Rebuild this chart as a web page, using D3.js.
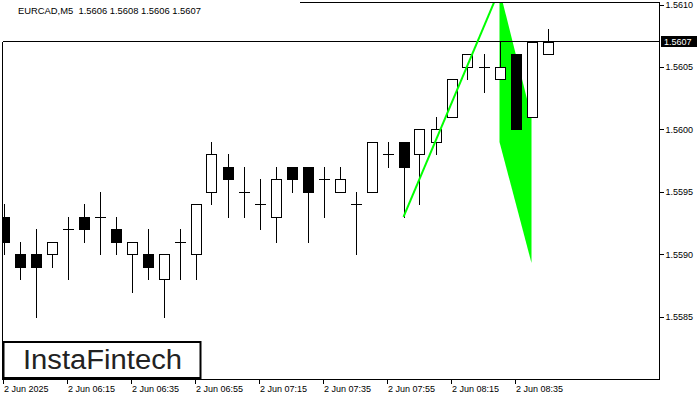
<!DOCTYPE html>
<html><head><meta charset="utf-8">
<script src="https://cdn.jsdelivr.net/npm/d3@7"></script>
<style>
html,body{margin:0;padding:0;background:#fff;}
svg{display:block;}
text{font-family:"Liberation Sans",Arial,sans-serif;}
</style></head>
<body>
<svg id="c" width="700" height="400"></svg>
<script>
// ---- data ----
const times = ["05:55","06:00","06:05","06:10","06:15","06:20","06:25","06:30","06:35","06:40","06:45","06:50","06:55","07:00","07:05","07:10","07:15","07:20","07:25","07:30","07:35","07:40","07:45","07:50","07:55","08:00","08:05","08:10","08:15","08:20","08:25","08:30","08:35","08:40","08:45"];
const open  = [1.5593,1.5590,1.5590,1.5590,1.5592,1.5593,1.5593,1.5592,1.5590,1.5590,1.5588,1.5591,1.5590,1.5595,1.5597,1.5595,1.5594,1.5593,1.5597,1.5597,1.5596,1.5595,1.5594,1.5595,1.5598,1.5599,1.5598,1.5599,1.5601,1.5605,1.5605,1.5604,1.5606,1.5601,1.5606];
const high  = [1.5594,1.5591,1.5592,1.5591,1.5593,1.5594,1.5595,1.5593,1.5591,1.5592,1.5590,1.5592,1.5594,1.5599,1.5598,1.5597,1.5596,1.5597,1.5597,1.5597,1.5597,1.5597,1.5595,1.5599,1.5599,1.5599,1.5600,1.5601,1.5604,1.5606,1.5606,1.5607,1.5606,1.5607,1.5608];
const low   = [1.5590,1.5588,1.5585,1.5589,1.5588,1.5591,1.5590,1.5590,1.5587,1.5588,1.5585,1.5588,1.5588,1.5594,1.5593,1.5593,1.5592,1.5591,1.5595,1.5591,1.5593,1.5595,1.5590,1.5595,1.5597,1.5593,1.5594,1.5598,1.5601,1.5604,1.5603,1.5604,1.5600,1.5601,1.5606];
const close = [1.5591,1.5589,1.5589,1.5591,1.5592,1.5592,1.5593,1.5591,1.5591,1.5589,1.5590,1.5591,1.5594,1.5598,1.5596,1.5595,1.5594,1.5596,1.5596,1.5595,1.5596,1.5596,1.5594,1.5599,1.5598,1.5597,1.5600,1.5600,1.5604,1.5606,1.5605,1.5605,1.5600,1.5607,1.5607];
const priceTicks = [1.5610,1.5605,1.5600,1.5595,1.5590,1.5585];
const timeTickIdx = [0,4,8,12,16,20,24,28,32];
const timeTickLabels = ["2 Jun 2025","2 Jun 06:15","2 Jun 06:35","2 Jun 06:55","2 Jun 07:15","2 Jun 07:35","2 Jun 07:55","2 Jun 08:15","2 Jun 08:35"];
const currentPrice = 1.5607;
const headerText = "EURCAD,M5  1.5606 1.5608 1.5606 1.5607";
// flag pattern: pole (index, price) and flag polygon
const poleIdx = [25, 31];
const polePrice = [1.5593, 1.56112];
const flagIdx = [31, 33, 33, 31];
const flagPrice = [1.56112, 1.5601, 1.55893, 1.5599];

// ---- layout ----
const svg = d3.select("#c");
const L = 3, R = 660, T = 2, B = 380;
const x = d3.scaleLinear().domain([0, 34]).range([3.5, 547.5]);
const y = d3.scaleLinear().domain([1.5585, 1.5610]).range([316.8, 4.5]);
const bw = 10;

svg.append("defs").append("clipPath").attr("id","plot")
  .append("rect").attr("x",L).attr("y",T).attr("width",R-L).attr("height",B-T);

const g = svg.append("g").attr("clip-path","url(#plot)");

// flag polygon (behind candles)
g.append("path")
  .attr("d", d3.line().x((d,i)=>x(flagIdx[i])).y((d,i)=>y(flagPrice[i])).curve(d3.curveLinearClosed)(flagIdx))
  .attr("fill","#00ff00").attr("stroke","none");

// current price line
g.append("line").attr("x1",0).attr("x2",R).attr("y1",Math.round(y(currentPrice))-0.5).attr("y2",Math.round(y(currentPrice))-0.5)
  .attr("stroke","#000").attr("stroke-width",1).attr("shape-rendering","crispEdges");

const candles = d3.range(times.length).map(i=>({i,o:open[i],h:high[i],l:low[i],c:close[i]}));
const cg = g.append("g").attr("shape-rendering","crispEdges");
const px = v => Math.round(v)+0.5;
cg.selectAll("line.wick").data(candles).join("line")
  .attr("x1",d=>px(x(d.i))).attr("x2",d=>px(x(d.i)))
  .attr("y1",d=>Math.round(y(d.h))).attr("y2",d=>Math.round(y(d.l))+1)
  .attr("stroke","#000");
cg.selectAll("rect.body").data(candles.filter(d=>d.o!==d.c)).join("rect")
  .attr("x",d=>Math.round(x(d.i))-bw/2+0.5)
  .attr("y",d=>Math.round(y(Math.max(d.o,d.c)))+0.5)
  .attr("width",bw)
  .attr("height",d=>Math.round(y(Math.min(d.o,d.c)))-Math.round(y(Math.max(d.o,d.c))))
  .attr("fill",d=>d.c<d.o?"#000":"#fff").attr("stroke","#000");
cg.selectAll("line.doji").data(candles.filter(d=>d.o===d.c)).join("line")
  .attr("x1",d=>Math.round(x(d.i))-bw/2).attr("x2",d=>Math.round(x(d.i))+bw/2+1)
  .attr("y1",d=>Math.round(y(d.o))+0.5).attr("y2",d=>Math.round(y(d.o))+0.5)
  .attr("stroke","#000");

// pole line (on top)
g.append("line")
  .attr("x1",x(poleIdx[0])).attr("y1",y(polePrice[0]))
  .attr("x2",x(poleIdx[1])).attr("y2",y(polePrice[1]))
  .attr("stroke","#00ff00").attr("stroke-width",2);

// frame
const fr = svg.append("g").attr("shape-rendering","crispEdges").attr("stroke","#000").attr("fill","none");
fr.append("line").attr("x1",R-0.5).attr("x2",R-0.5).attr("y1",T).attr("y2",B);
fr.append("line").attr("x1",L-0.5).attr("x2",R).attr("y1",B-0.5).attr("y2",B-0.5);
fr.append("line").attr("x1",L-0.5).attr("x2",L-0.5).attr("y1",Math.round(y(currentPrice))).attr("y2",B);
fr.append("line").attr("x1",300).attr("x2",R).attr("y1",T+0.5).attr("y2",T+0.5);

// right axis
const yAxis = d3.axisRight(y).tickValues(priceTicks).tickSize(4).tickPadding(2).tickFormat(d3.format(".4f"));
const ya = svg.append("g").attr("transform",`translate(${R-0.5},0)`).call(yAxis);
ya.select(".domain").remove();
ya.selectAll("text").attr("font-size","9px").attr("font-family","Liberation Sans, Arial, sans-serif").attr("fill","#000");
ya.selectAll("line").attr("stroke","#000").attr("shape-rendering","crispEdges");

// current price label
const cy = Math.round(y(currentPrice));
svg.append("rect").attr("x",R+1).attr("y",cy-6).attr("width",36).attr("height",11).attr("fill","#000");
svg.append("text").attr("x",R+4).attr("y",cy+3).attr("font-size","9px").attr("fill","#fff").text(d3.format(".4f")(currentPrice));

// bottom axis
const xa = svg.append("g").attr("transform",`translate(0,${B-0.5})`);
xa.selectAll("line").data(timeTickIdx).join("line")
  .attr("x1",d=>Math.round(x(d))-0.5).attr("x2",d=>Math.round(x(d))-0.5).attr("y1",0).attr("y2",4)
  .attr("stroke","#000").attr("shape-rendering","crispEdges");
xa.selectAll("text").data(timeTickIdx).join("text")
  .attr("x",d=>Math.round(x(d))).attr("y",12).attr("font-size","9px").attr("fill","#000")
  .text((d,i)=>timeTickLabels[i]);

// header
svg.append("text").attr("x",18).attr("y",14).attr("font-size","9.4px").attr("fill","#000").attr("xml:space","preserve").style("white-space","pre").text(headerText);

// logo
svg.append("rect").attr("x",3.5).attr("y",342).attr("width",197).attr("height",36).attr("fill","#fff").attr("stroke","#000").attr("stroke-width",2);
svg.append("text").attr("x",23).attr("y",369).attr("font-family","Inter, Lato, sans-serif").attr("font-weight",500).attr("font-size","27px")
  .attr("fill","#222").attr("textLength",159).attr("lengthAdjust","spacingAndGlyphs").text("InstaFintech");
</script>
</body></html>
